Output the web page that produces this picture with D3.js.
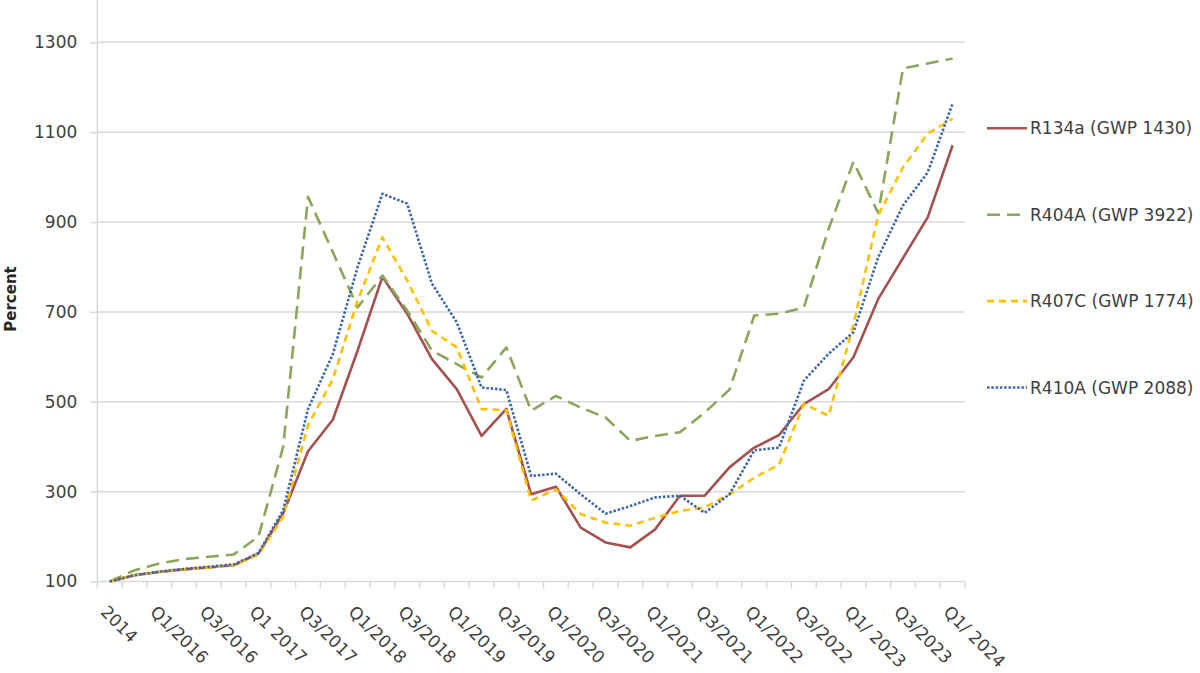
<!DOCTYPE html>
<html>
<head>
<meta charset="utf-8">
<script src="https://cdn.jsdelivr.net/npm/d3@7"></script>
<style>
  html, body { margin: 0; padding: 0; background: #fff; }
  svg { display: block; }
</style>
</head>
<body>
<div id="chart"></div>
<script>
// quarters along the x axis (only every other one is labelled)
const categories = [
  "2014", "2015", "Q1/2016", "Q2/2016", "Q3/2016", "Q4/2016", "Q1 2017", "Q2/2017",
  "Q3/2017", "Q4/2017", "Q1/2018", "Q2/2018", "Q3/2018", "Q4/2018", "Q1/2019", "Q2/2019",
  "Q3/2019", "Q4/2019", "Q1/2020", "Q2/2020", "Q3/2020", "Q4/2020", "Q1/2021", "Q2/2021",
  "Q3/2021", "Q4/2021", "Q1/2022", "Q2/2022", "Q3/2022", "Q4/2022", "Q1/ 2023", "Q2/2023",
  "Q3/2023", "Q4/2023", "Q1/ 2024"
];

const r134a = [100, 114, 121, 127, 131, 136, 162, 252, 390, 460, 614, 778, 696, 595, 528, 424,
  484, 294, 311, 220, 187, 176, 216, 291, 291, 354, 398, 426, 495, 528, 599, 729, 820, 911, 1071];
const r404a = [100, 125, 140, 150, 155, 160, 200, 400, 956, 833, 710, 781, 703, 614, 584, 554,
  621, 480, 513, 487, 465, 413, 424, 432, 476, 527, 692, 696, 710, 885, 1034, 920, 1242, 1253, 1264];
const r407c = [100, 114, 121, 127, 131, 136, 160, 244, 448, 550, 725, 866, 770, 658, 621, 484,
  481, 280, 305, 250, 231, 224, 242, 257, 265, 294, 331, 360, 495, 469, 672, 915, 1022, 1097, 1130];
const r410a = [100, 114, 122, 128, 133, 138, 163, 259, 484, 606, 800, 963, 941, 763, 677, 532,
  526, 335, 340, 294, 251, 268, 287, 291, 253, 294, 392, 398, 547, 607, 655, 822, 937, 1011, 1164];

const seriesNames = ["R134a (GWP 1430)", "R404A (GWP 3922)", "R407C (GWP 1774)", "R410A (GWP 2088)"];
const yTicks = [100, 300, 500, 700, 900, 1100, 1300];
const yDomain = [100, 1400];

const series = [
  { name: seriesNames[0], values: r134a, color: "#a3524f", dash: null },
  { name: seriesNames[1], values: r404a, color: "#8aa65b", dash: "13,7" },
  { name: seriesNames[2], values: r407c, color: "#ffc000", dash: "7,5" },
  { name: seriesNames[3], values: r410a, color: "#3f68a6", dash: "2.5,1.8" }
];

const W = 1200, H = 673;
const plot = { left: 97.3, right: 965, top: -2.6, bottom: 581.5 };
const gridColor = "#d9d9d9";
const textColor = "#404040";
const font = "'DejaVu Sans', Verdana, sans-serif";

const svg = d3.select("#chart").append("svg")
  .attr("width", W)
  .attr("height", H);

svg.append("rect").attr("width", W).attr("height", H).attr("fill", "#fff");

const x = d3.scaleBand()
  .domain(categories)
  .range([plot.left, plot.right])
  .padding(0);

const y = d3.scaleLinear()
  .domain(yDomain)
  .range([plot.bottom, plot.top]);

const cx = d => x(d) + x.bandwidth() / 2;

// gridlines
svg.append("g")
  .selectAll("line")
  .data(yTicks)
  .join("line")
  .attr("x1", plot.left)
  .attr("x2", plot.right)
  .attr("y1", d => y(d))
  .attr("y2", d => y(d))
  .attr("stroke", gridColor)
  .attr("stroke-width", 1.5);

// y axis
const yAxis = svg.append("g")
  .attr("transform", `translate(${plot.left},0)`)
  .call(d3.axisLeft(y).tickValues(yTicks).tickSize(7).tickPadding(13).tickFormat(d3.format("d")));
yAxis.select(".domain").remove();
yAxis.selectAll(".tick line").attr("stroke", gridColor).attr("stroke-width", 1.5);
yAxis.selectAll(".tick text")
  .attr("fill", textColor)
  .style("font-family", font)
  .style("font-size", "17px");

svg.append("line")
  .attr("x1", plot.left).attr("x2", plot.left)
  .attr("y1", 0).attr("y2", plot.bottom)
  .attr("stroke", gridColor)
  .attr("stroke-width", 1.5);

// x axis: ticks sit between categories
const xTickPos = categories.map(d => x(d)).concat([plot.right]);
svg.append("g")
  .selectAll("line")
  .data(xTickPos)
  .join("line")
  .attr("x1", d => d)
  .attr("x2", d => d)
  .attr("y1", plot.bottom)
  .attr("y2", plot.bottom + 7)
  .attr("stroke", gridColor)
  .attr("stroke-width", 1.5);

svg.append("g")
  .selectAll("text")
  .data(categories.filter((d, i) => i % 2 === 0))
  .join("text")
  .attr("transform", d => `translate(${cx(d) - 10},613) rotate(45)`)
  .attr("text-anchor", "start")
  .attr("fill", textColor)
  .style("font-family", font)
  .style("font-size", "17px")
  .text(d => d);

// y axis title
svg.append("text")
  .attr("transform", "translate(11,299) rotate(-90)")
  .attr("text-anchor", "middle")
  .attr("dominant-baseline", "central")
  .attr("fill", "#262626")
  .style("font-family", font)
  .style("font-size", "15px")
  .style("font-weight", "bold")
  .text("Percent");

// lines
const line = d3.line()
  .x((d, i) => cx(categories[i]))
  .y(d => y(d));

svg.append("g")
  .selectAll("path")
  .data(series)
  .join("path")
  .attr("d", d => line(d.values))
  .attr("fill", "none")
  .attr("stroke", d => d.color)
  .attr("stroke-width", 2.6)
  .attr("stroke-dasharray", d => d.dash)
  .attr("stroke-linejoin", "round");

// legend
const legend = svg.append("g")
  .selectAll("g")
  .data(series)
  .join("g")
  .attr("transform", (d, i) => `translate(987,${128.3 + i * 86.4})`);

legend.append("line")
  .attr("x1", 0).attr("x2", 40)
  .attr("y1", 0).attr("y2", 0)
  .attr("stroke", d => d.color)
  .attr("stroke-width", 2.6)
  .attr("stroke-dasharray", d => d.dash);

legend.append("text")
  .attr("x", 43)
  .attr("y", 0)
  .attr("dominant-baseline", "central")
  .attr("fill", textColor)
  .style("font-family", font)
  .style("font-size", "17px")
  .text(d => d.name);
</script>
</body>
</html>
